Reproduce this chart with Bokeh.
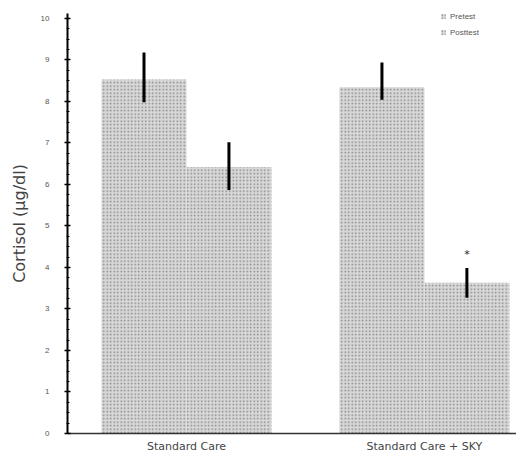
from bokeh.plotting import figure
from bokeh.models import ColumnDataSource, FixedTicker, Legend, LegendItem, Range1d
from bokeh.core.properties import value
from bokeh.embed import file_html
from bokeh.resources import INLINE

groups = ["Standard Care", "Standard Care + SKY"]
phases = ["Pretest", "Posttest"]
pre_vals = [8.53, 8.34]
post_vals = [6.42, 3.63]
pre_err_lo = [0.55, 0.3]
pre_err_hi = [0.65, 0.6]
post_err_lo = [0.55, 0.36]
post_err_hi = [0.6, 0.36]
y_ticks = [0, 1, 2, 3, 4, 5, 6, 7, 8, 9, 10]
star_label = "*"
star_flags = [False, True]

bar_w = 0.357
off = bar_w / 2

p = figure(width=516, height=455, output_backend="svg", toolbar_location=None,
           x_range=Range1d(-0.5, 1.387), y_range=Range1d(0, 10.12),
           min_border_left=67, min_border_right=0, min_border_top=13, min_border_bottom=21)
p.outline_line_color = None
p.grid.visible = False
p.background_fill_color = "white"

def bar_src(vals, lo, hi, shift):
    xs = [i + shift for i in range(len(groups))]
    return ColumnDataSource(dict(x=xs, top=vals,
                                 lo=[v - e for v, e in zip(vals, lo)],
                                 hi=[v + e for v, e in zip(vals, hi)]))

src_pre = bar_src(pre_vals, pre_err_lo, pre_err_hi, -off)
src_post = bar_src(post_vals, post_err_lo, post_err_hi, off)

style = dict(width=bar_w, bottom=0, fill_color="#d8d8d8", line_color=None,
             hatch_pattern="dot", hatch_color="#333333", hatch_alpha=0.5, hatch_scale=3.5)
r_pre = p.vbar(x="x", top="top", source=src_pre, **style)
r_post = p.vbar(x="x", top="top", source=src_post, **style)

for s in (src_pre, src_post):
    p.segment(x0="x", x1="x", y0="lo", y1="hi", source=s, line_color="black", line_width=3)

sx = [i + off for i, f in enumerate(star_flags) if f]
sy = [post_vals[i] + post_err_hi[i] + 0.33 for i, f in enumerate(star_flags) if f]
p.text(x=sx, y=sy, text=[star_label] * len(sx), text_align="center", text_baseline="middle",
       text_font=value("DejaVu Sans"), text_font_size="11px", text_color="#222222")

# axes
p.yaxis.ticker = FixedTicker(ticks=y_ticks, minor_ticks=[t / 4 for t in range(0, 41)])
p.yaxis.axis_label = "Cortisol (µg/dl)"
p.yaxis.axis_label_text_font = "DejaVu Sans"
p.yaxis.axis_label_text_font_style = "normal"
p.yaxis.axis_label_text_font_size = "16px"
p.yaxis.axis_label_text_color = "#444444"
p.yaxis.axis_label_standoff = 9
p.yaxis.major_label_text_font_size = "8px"
p.yaxis.major_label_text_color = "#555555"
p.yaxis.major_label_standoff = 15
p.yaxis.axis_line_width = 2
p.yaxis.axis_line_color = "black"
p.yaxis.major_tick_in = 3
p.yaxis.major_tick_out = 3
p.yaxis.minor_tick_in = 2
p.yaxis.minor_tick_out = 1
p.yaxis.major_tick_line_width = 1.5

p.xaxis.ticker = FixedTicker(ticks=list(range(len(groups))), minor_ticks=[])
p.xaxis.major_label_overrides = {i: g for i, g in enumerate(groups)}
p.xaxis.major_tick_out = 0
p.xaxis.major_tick_in = 0
p.xaxis.major_label_standoff = 6
p.xaxis.major_label_text_font = "DejaVu Sans"
p.xaxis.major_label_text_font_size = "11px"
p.xaxis.major_label_text_color = "#444444"
p.xaxis.axis_line_color = "#333333"
p.xaxis.axis_line_width = 1.5

legend = Legend(items=[LegendItem(label=phases[0], renderers=[r_pre]),
                       LegendItem(label=phases[1], renderers=[r_post])],
                location=(373, 395), padding=0, spacing=4, label_height=12,
                glyph_width=6, glyph_height=6, label_text_font_size="8px",
                label_text_color="#555555", border_line_color=None,
                background_fill_alpha=0, label_standoff=4)
p.add_layout(legend)

open("out.html", "w").write(file_html(p, INLINE))
